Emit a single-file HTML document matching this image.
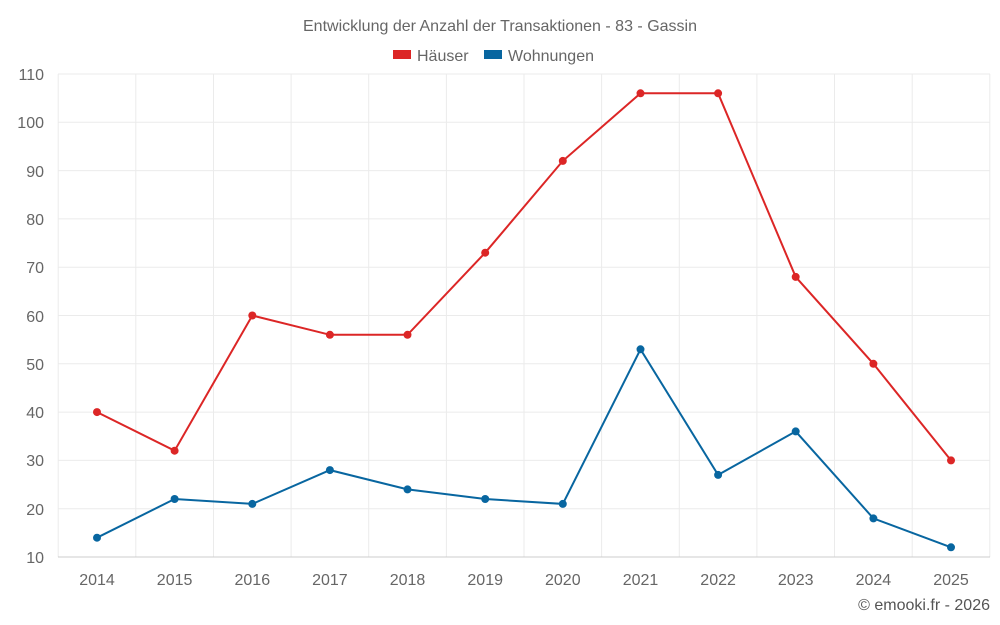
<!DOCTYPE html>
<html><head><meta charset="utf-8"><style>
html,body{margin:0;padding:0;background:#fff;}
svg{display:block;font-family:"Liberation Sans",sans-serif;}
</style></head><body>
<svg width="1000" height="625" viewBox="0 0 1000 625" xmlns="http://www.w3.org/2000/svg">
<text x="500" y="31" text-anchor="middle" font-size="16" fill="#666">Entwicklung der Anzahl der Transaktionen - 83 - Gassin</text>
<rect x="393" y="50" width="18" height="9" fill="#dc2626"/>
<text x="417" y="61" font-size="16" fill="#666">Häuser</text>
<rect x="484" y="50" width="18" height="9" fill="#0866a0"/>
<text x="508" y="61" font-size="16" fill="#666">Wohnungen</text>
<g stroke="#ebebeb" stroke-width="1">
<line x1="58" y1="74" x2="990" y2="74"/><line x1="58" y1="122.3" x2="990" y2="122.3"/><line x1="58" y1="170.6" x2="990" y2="170.6"/><line x1="58" y1="218.9" x2="990" y2="218.9"/><line x1="58" y1="267.2" x2="990" y2="267.2"/><line x1="58" y1="315.5" x2="990" y2="315.5"/><line x1="58" y1="363.8" x2="990" y2="363.8"/><line x1="58" y1="412.1" x2="990" y2="412.1"/><line x1="58" y1="460.4" x2="990" y2="460.4"/><line x1="58" y1="508.7" x2="990" y2="508.7"/>
<line x1="58.2" y1="74" x2="58.2" y2="557"/><line x1="135.8" y1="74" x2="135.8" y2="557"/><line x1="213.5" y1="74" x2="213.5" y2="557"/><line x1="291.1" y1="74" x2="291.1" y2="557"/><line x1="368.7" y1="74" x2="368.7" y2="557"/><line x1="446.4" y1="74" x2="446.4" y2="557"/><line x1="524" y1="74" x2="524" y2="557"/><line x1="601.6" y1="74" x2="601.6" y2="557"/><line x1="679.3" y1="74" x2="679.3" y2="557"/><line x1="756.9" y1="74" x2="756.9" y2="557"/><line x1="834.5" y1="74" x2="834.5" y2="557"/><line x1="912.2" y1="74" x2="912.2" y2="557"/><line x1="989.8" y1="74" x2="989.8" y2="557"/>
</g>
<line x1="58" y1="557" x2="990" y2="557" stroke="#ccc"/>
<g font-size="16" fill="#666" text-anchor="end">
<text x="44" y="80">110</text><text x="44" y="128">100</text><text x="44" y="177">90</text><text x="44" y="225">80</text><text x="44" y="273">70</text><text x="44" y="322">60</text><text x="44" y="370">50</text><text x="44" y="418">40</text><text x="44" y="466">30</text><text x="44" y="515">20</text><text x="44" y="563">10</text>
</g>
<g font-size="16" fill="#666" text-anchor="middle">
<text x="97" y="585">2014</text><text x="174.6" y="585">2015</text><text x="252.3" y="585">2016</text><text x="329.9" y="585">2017</text><text x="407.5" y="585">2018</text><text x="485.2" y="585">2019</text><text x="562.8" y="585">2020</text><text x="640.5" y="585">2021</text><text x="718.1" y="585">2022</text><text x="795.7" y="585">2023</text><text x="873.4" y="585">2024</text><text x="951" y="585">2025</text>
</g>
<polyline fill="none" stroke="#dc2626" stroke-width="2" points="97,412.1 174.6,450.7 252.3,315.5 329.9,334.8 407.5,334.8 485.2,252.7 562.8,160.9 640.5,93.3 718.1,93.3 795.7,276.9 873.4,363.8 951,460.4"/>
<g fill="#dc2626">
<circle cx="97" cy="412.1" r="4"/><circle cx="174.6" cy="450.7" r="4"/><circle cx="252.3" cy="315.5" r="4"/><circle cx="329.9" cy="334.8" r="4"/><circle cx="407.5" cy="334.8" r="4"/><circle cx="485.2" cy="252.7" r="4"/><circle cx="562.8" cy="160.9" r="4"/><circle cx="640.5" cy="93.3" r="4"/><circle cx="718.1" cy="93.3" r="4"/><circle cx="795.7" cy="276.9" r="4"/><circle cx="873.4" cy="363.8" r="4"/><circle cx="951" cy="460.4" r="4"/>
</g>
<polyline fill="none" stroke="#0866a0" stroke-width="2" points="97,537.7 174.6,499 252.3,503.9 329.9,470.1 407.5,489.4 485.2,499 562.8,503.9 640.5,349.3 718.1,474.9 795.7,431.4 873.4,518.4 951,547.3"/>
<g fill="#0866a0">
<circle cx="97" cy="537.7" r="4"/><circle cx="174.6" cy="499" r="4"/><circle cx="252.3" cy="503.9" r="4"/><circle cx="329.9" cy="470.1" r="4"/><circle cx="407.5" cy="489.4" r="4"/><circle cx="485.2" cy="499" r="4"/><circle cx="562.8" cy="503.9" r="4"/><circle cx="640.5" cy="349.3" r="4"/><circle cx="718.1" cy="474.9" r="4"/><circle cx="795.7" cy="431.4" r="4"/><circle cx="873.4" cy="518.4" r="4"/><circle cx="951" cy="547.3" r="4"/>
</g>
<text x="990" y="610" text-anchor="end" font-size="16" fill="#555">© emooki.fr - 2026</text>
</svg>
</body></html>
